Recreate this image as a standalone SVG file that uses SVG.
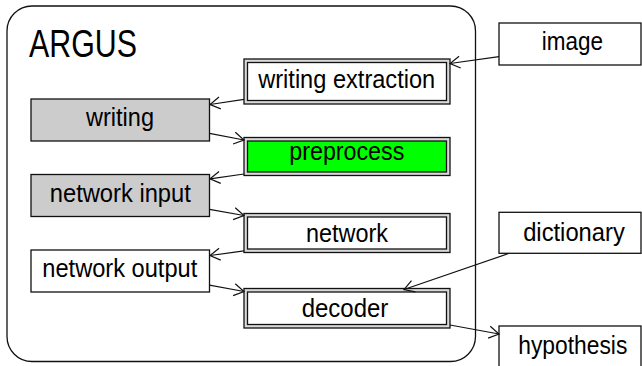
<svg xmlns="http://www.w3.org/2000/svg" width="642" height="366" viewBox="0 0 642 366">
<style>
  text { font-family: "Liberation Sans", Arial, sans-serif; font-size: 26px; fill: #000; text-anchor: middle; }
  .box { stroke: #111; stroke-width: 1.3; }
  .plain { fill: #fff; }
  .gray { fill: #cccccc; }
  .outer { fill: #d9d9d9; stroke: #111; stroke-width: 1.3; }
  .inner { fill: #fff; stroke: #111; stroke-width: 1.3; }
  .green { fill: #00ff00; }
  .edge { fill: none; stroke: #111; stroke-width: 1.2; }
</style>
<defs>
  <marker id="arr" viewBox="-11 -7 12 14" markerWidth="12" markerHeight="14" refX="0" refY="0" orient="auto" markerUnits="userSpaceOnUse">
    <path d="M-10,-6 L0,0 L-10,6" fill="none" stroke="#111" stroke-width="1.2"/>
  </marker>
</defs>
<rect width="642" height="366" fill="#fff"/>
<g id="argus">
  <rect x="7" y="6" width="468.5" height="355.5" rx="25" ry="25" fill="none" stroke="#111" stroke-width="1.3"/>
  <text x="29" y="57.3" style="text-anchor:start;font-size:38px" textLength="108" lengthAdjust="spacingAndGlyphs">ARGUS</text>
</g>
<g id="writing-extraction">
  <rect class="outer" x="244" y="59" width="206" height="45"/>
  <rect class="inner" x="247.5" y="62.5" width="199" height="38"/>
  <text x="346.7" y="88.3" textLength="177" lengthAdjust="spacingAndGlyphs">writing extraction</text>
</g>
<g id="preprocess">
  <rect class="outer" x="244" y="137.5" width="206" height="38"/>
  <rect class="inner green" x="247.5" y="141" width="199" height="31"/>
  <text x="346.8" y="160" textLength="115" lengthAdjust="spacingAndGlyphs">preprocess</text>
</g>
<g id="network">
  <rect class="outer" x="244" y="213.5" width="206" height="39"/>
  <rect class="inner" x="247.5" y="217" width="199" height="32"/>
  <text x="347" y="241.7" textLength="82" lengthAdjust="spacingAndGlyphs">network</text>
</g>
<g id="decoder">
  <rect class="outer" x="244" y="288.5" width="206" height="39.5"/>
  <rect class="inner" x="247.5" y="292" width="199" height="32.5"/>
  <text x="345" y="317.3" textLength="86.7" lengthAdjust="spacingAndGlyphs">decoder</text>
</g>
<g id="writing">
  <rect class="box gray" x="31" y="99" width="178.5" height="42"/>
  <text x="120" y="126" textLength="68" lengthAdjust="spacingAndGlyphs">writing</text>
</g>
<g id="network-input">
  <rect class="box gray" x="31" y="174.5" width="178.5" height="42"/>
  <text x="120.3" y="201.7" textLength="141" lengthAdjust="spacingAndGlyphs">network input</text>
</g>
<g id="network-output">
  <rect class="box plain" x="31" y="250" width="178.5" height="42"/>
  <text x="119.8" y="276.7" textLength="155" lengthAdjust="spacingAndGlyphs">network output</text>
</g>
<g id="image">
  <rect class="box plain" x="499" y="23" width="142" height="42"/>
  <text x="572.3" y="50" textLength="61.3" lengthAdjust="spacingAndGlyphs">image</text>
</g>
<g id="dictionary">
  <rect class="box plain" x="499" y="212.3" width="142" height="41"/>
  <text x="574" y="241" textLength="101.7" lengthAdjust="spacingAndGlyphs">dictionary</text>
</g>
<g id="hypothesis">
  <rect class="box plain" x="499" y="326" width="142" height="60"/>
  <text x="572.8" y="353.5" textLength="109" lengthAdjust="spacingAndGlyphs">hypothesis</text>
</g>
<g id="connectors">
  <line class="edge" x1="499" y1="56.7" x2="450" y2="63.5" marker-end="url(#arr)"/>
  <line class="edge" x1="244" y1="99.3" x2="210" y2="104.5" marker-end="url(#arr)"/>
  <line class="edge" x1="209.5" y1="133.4" x2="244" y2="140" marker-end="url(#arr)"/>
  <line class="edge" x1="244" y1="174" x2="210" y2="178.8" marker-end="url(#arr)"/>
  <line class="edge" x1="209.5" y1="209.3" x2="244" y2="215.5" marker-end="url(#arr)"/>
  <line class="edge" x1="244" y1="250.8" x2="210" y2="255.5" marker-end="url(#arr)"/>
  <line class="edge" x1="209.5" y1="285.2" x2="244" y2="291.5" marker-end="url(#arr)"/>
  <line class="edge" x1="509.3" y1="253.3" x2="404" y2="289.5" marker-end="url(#arr)"/>
  <line class="edge" x1="450" y1="325" x2="499" y2="334" marker-end="url(#arr)"/>
</g>
</svg>
